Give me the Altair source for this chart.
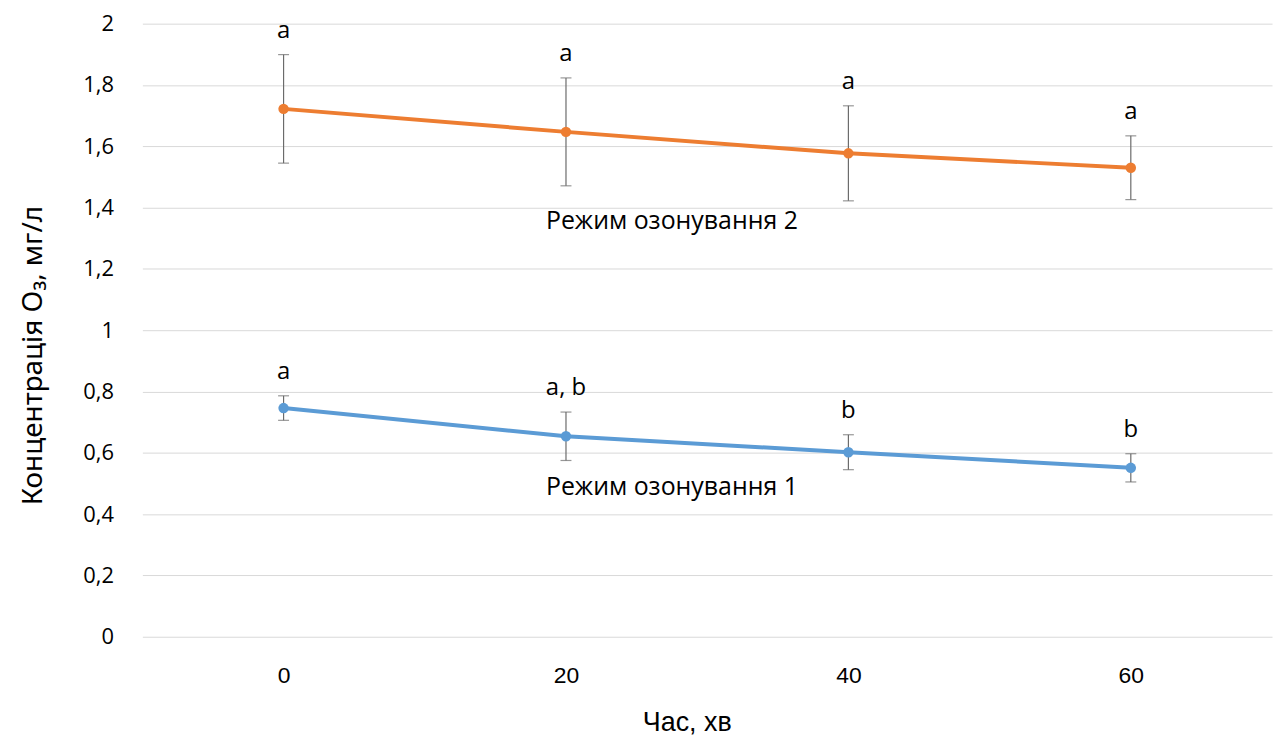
import altair as alt
import pandas as pd

times = [0, 20, 40, 60]
mode1_mean = [0.746, 0.654, 0.602, 0.551]
mode1_err = [0.040, 0.079, 0.057, 0.046]
mode1_letters = ["a", "a, b", "b", "b"]
mode2_mean = [1.722, 1.647, 1.577, 1.530]
mode2_err = [0.177, 0.176, 0.155, 0.104]
mode2_letters = ["a", "a", "a", "a"]
series_names = ["Режим озонування 1", "Режим озонування 2"]
series_colors = ["#5B9BD5", "#ED7D31"]
label_x = [27.5, 27.5]
label_y = [0.49, 1.357]

rows = []
for name, means, errs, letters in [
    (series_names[0], mode1_mean, mode1_err, mode1_letters),
    (series_names[1], mode2_mean, mode2_err, mode2_letters),
]:
    for t, m, e, l in zip(times, means, errs, letters):
        rows.append({"series": name, "t": t, "mean": m, "lo": m - e, "hi": m + e, "letter": l})
df = pd.DataFrame(rows)
lab = pd.DataFrame({"series": series_names, "x": label_x, "y": label_y})

FONT = "Open Sans"
TITLEFONT = "Liberation Sans Narrow, Liberation Sans"
YT = "Концентрація O₃, мг/л"
XT = "Час, хв"

xscale = alt.Scale(domain=[-10, 70], nice=False, zero=False)
yscale = alt.Scale(domain=[0, 2], nice=False)
color = alt.Color("series:N", scale=alt.Scale(domain=series_names, range=series_colors), legend=None)

xaxis = alt.Axis(values=times, grid=False, domain=False, ticks=False,
                 labelFont=TITLEFONT, labelFontSize=23, labelPadding=28,
                 labelColor="#000000", titleFont=TITLEFONT, titleFontSize=27,
                 titleFontWeight="normal", titlePadding=22, titleColor="#000000",
                 titleX=547)
yaxis = alt.Axis(values=[0, 0.2, 0.4, 0.6, 0.8, 1, 1.2, 1.4, 1.6, 1.8, 2],
                 labelExpr="replace(format(datum.value, '.1~f'), '.', ',')",
                 grid=True, gridColor="#d9d9d9", gridWidth=1, domain=False, ticks=False,
                 labelFont=FONT, labelFontSize=22, labelPadding=29, labelColor="#000000",
                 titleFont="Noto Sans", titleFontSize=28, titleFontWeight="normal",
                 titlePadding=35, titleColor="#000000", titleY=333)

x = alt.X("t:Q", scale=xscale, title=XT, axis=xaxis)
y = alt.Y("mean:Q", scale=yscale, title=YT, axis=yaxis)

base = alt.Chart(df)

err_rule = base.mark_rule(color="#6b6b6b", strokeWidth=1.2).encode(
    x=x, y=alt.Y("lo:Q", scale=yscale, axis=yaxis, title=YT), y2="hi:Q")
cap_hi = base.mark_tick(color="#6b6b6b", thickness=1.2, size=11, orient="horizontal").encode(
    x=x, y=alt.Y("hi:Q", scale=yscale, axis=yaxis, title=YT))
cap_lo = base.mark_tick(color="#6b6b6b", thickness=1.2, size=11, orient="horizontal").encode(
    x=x, y=alt.Y("lo:Q", scale=yscale, axis=yaxis, title=YT))
line = base.mark_line(strokeWidth=4).encode(x=x, y=y, color=color, detail="series:N")
pts = base.mark_circle(size=110, opacity=1).encode(x=x, y=y, color=color)
letters = base.mark_text(font=FONT, fontSize=24, dy=-24, color="#000000").encode(
    x=x, y=alt.Y("hi:Q", scale=yscale, axis=yaxis, title=YT), text="letter:N")
series_lab = alt.Chart(lab).mark_text(font=FONT, fontSize=25, color="#000000").encode(
    x=alt.X("x:Q", scale=xscale, axis=xaxis, title=XT),
    y=alt.Y("y:Q", scale=yscale, axis=yaxis, title=YT), text="series:N")

chart = alt.layer(line, err_rule, cap_hi, cap_lo, pts, letters, series_lab).properties(
    width=1135, height=616,
    background="#ffffff",
    autosize=alt.AutoSizeParams(type="none"),
    padding={"left": 135, "top": 14, "right": 4, "bottom": 100},
).configure_view(stroke=None).configure_axis(domain=False, ticks=False)

chart.save("out.html", embed_options={"renderer": "svg", "actions": False})
